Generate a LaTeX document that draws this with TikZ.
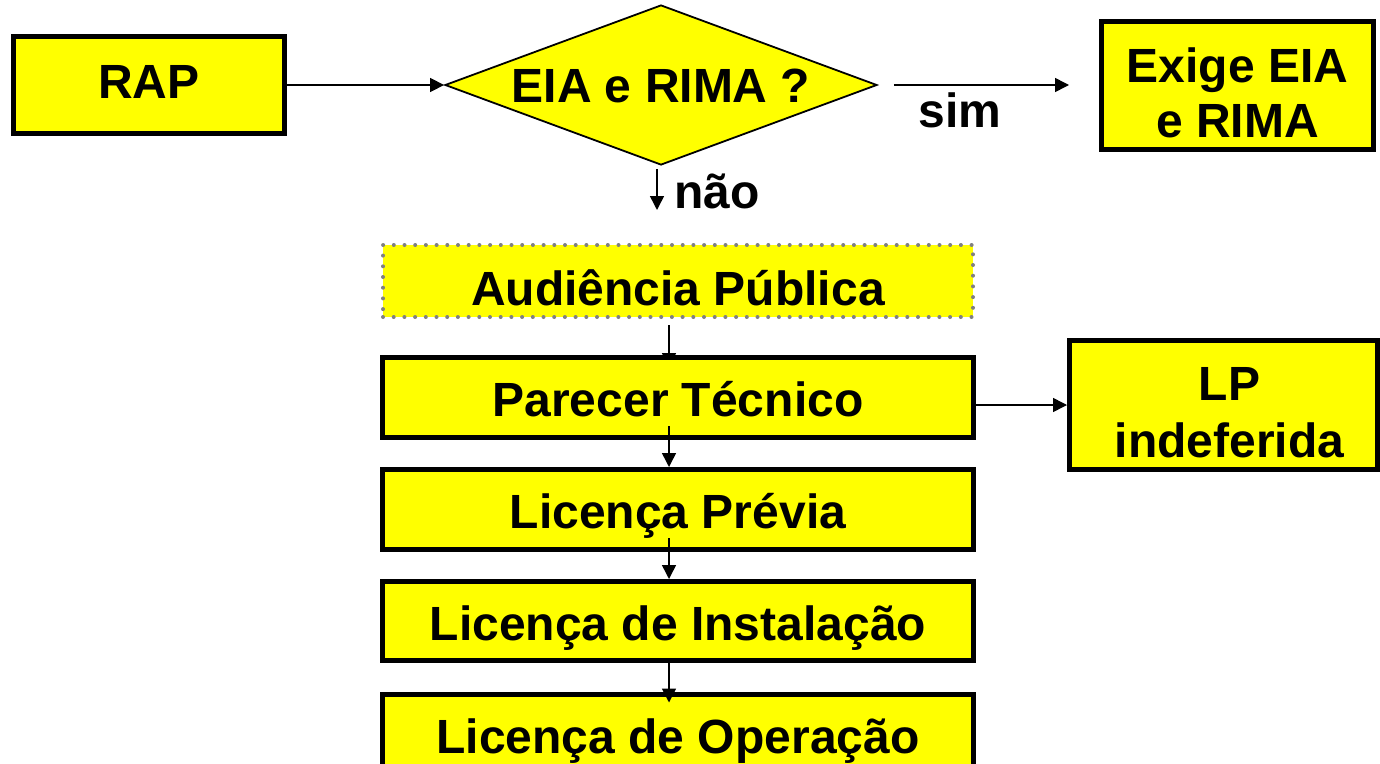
\documentclass[tikz,border=0pt]{standalone}
\usepackage{fontspec}
\setmainfont{Liberation Sans}
\usetikzlibrary{arrows.meta,shapes.geometric}
\pgfdeclarelayer{background}
\pgfsetlayers{background,main}
\definecolor{boxyellow}{HTML}{FFFF00}
\definecolor{dotgray}{HTML}{808080}
\tikzset{
  txt/.style={font=\bfseries\fontsize{48}{55}\selectfont},
  box/.style={draw=black, line width=5pt, fill=boxyellow, inner sep=0pt, txt,
    text height=38pt, text depth=0pt},
  mainbox/.style={box, minimum width=591pt, minimum height=80pt},
  lbl/.style={txt, inner sep=0pt, text height=35pt, text depth=0pt},
  arr/.style={line width=1.5pt, -{Triangle[length=14pt,width=14pt]}}
}
\begin{document}
\begin{tikzpicture}[x=1pt,y=-1pt]
\useasboundingbox (0,0) rectangle (1380,763);

% nodes
\node[box, minimum width=271pt, minimum height=97pt, text height=26pt] (rap) at (149,85) {RAP};
\node[diamond, aspect=2.7, draw=black, line width=1.8pt, fill=boxyellow,
      minimum width=432pt, minimum height=160pt, inner sep=0pt, txt,
      text height=34pt, text depth=0pt] (eia) at (661,85) {EIA e RIMA ?};
\node[box, minimum width=272pt, minimum height=128pt, text height=103pt] (exige) at (1237.5,85.5)
  {\begin{tabular}[b]{@{}c@{}}Exige EIA\\e RIMA\end{tabular}};
\node[lbl] (sim) at (960,109.5) {sim};
\node[txt, inner sep=0pt, anchor=base west] (nao) at (674,208) {não};
\coordinate (naoend) at (657,210);

\node[box, draw=dotgray, line width=4pt, dash pattern=on 0pt off 10.7pt, line cap=round,
      minimum width=590pt, minimum height=72pt, text height=48pt] (aud) at (678,281) {Audiência Pública};
\node[mainbox] (par) at (678,397.5) {Parecer Técnico};
\node[mainbox] (prev) at (678,509.5) {Licença Prévia};
\node[mainbox, minimum height=79pt] (inst) at (678,621) {Licença de Instalação};
\node[mainbox] (op) at (678,734) {Licença de Operação};
\node[box, minimum width=308pt, minimum height=129pt, text height=104pt,
      font=\bfseries\fontsize{48}{57}\selectfont] (lp) at (1223.5,405)
  {\begin{tabular}[b]{@{\hspace{12pt}}c@{}}LP\\indeferida\end{tabular}};

% connectors
\draw[arr] (rap) -- (eia);
\draw[arr] ([xshift=16pt]eia.east) -- ([xshift=-30pt]exige.west |- eia.east);
\draw[arr] ([xshift=-4pt,yshift=-3pt]eia.south) -- (naoend);
\begin{pgfonlayer}{background}
\draw[arr] ([xshift=-9pt,yshift=-6pt]aud.south) -- ([xshift=-9pt,yshift=-12pt]par.north);
\end{pgfonlayer}
\draw[arr] ([xshift=-9pt,yshift=14pt]par.south) -- ([xshift=-9pt]prev.north);
\draw[arr] ([xshift=-9pt,yshift=14pt]prev.south) -- ([xshift=-9pt]inst.north);
\draw[arr] ([xshift=-9pt]inst.south) -- ([xshift=-9pt,yshift=-11pt]op.north);
\draw[arr] (par.east |- lp.west) -- (lp.west);
\end{tikzpicture}
\end{document}
